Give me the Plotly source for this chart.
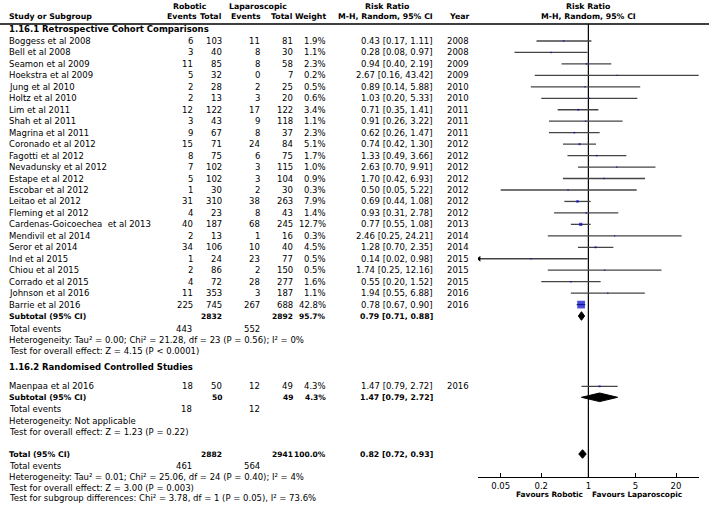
import plotly.graph_objects as go

# ---------------- data ----------------
studies = ["Boggess et al 2008", "Bell et al 2008", "Seamon et al 2009", "Hoekstra et al 2009",
           "Jung et al 2010", "Holtz et al 2010", "Lim et al 2011", "Shah et al 2011",
           "Magrina et al 2011", "Coronado et al 2012", "Fagotti et al 2012", "Nevadunsky et al 2012",
           "Estape et al 2012", "Escobar et al 2012", "Leitao et al 2012", "Fleming et al 2012",
           "Cardenas-Goicoechea \u00a0et al 2013", "Mendivil et al 2014", "Seror et al 2014",
           "Ind et al 2015", "Chiou et al 2015", "Corrado et al 2015", "Johnson et al 2016",
           "Barrie et al 2016"]
rob_events = [6, 3, 11, 5, 2, 2, 12, 3, 9, 15, 8, 7, 5, 1, 31, 4, 40, 2, 34, 1, 2, 4, 11, 225]
rob_total = [103, 40, 85, 32, 28, 13, 122, 43, 67, 71, 75, 102, 102, 30, 310, 23, 187, 13, 106, 24, 86, 72, 353, 745]
lap_events = [11, 8, 8, 0, 2, 3, 17, 9, 8, 24, 6, 3, 3, 2, 38, 8, 68, 1, 10, 23, 2, 28, 3, 267]
lap_total = [81, 30, 58, 7, 25, 20, 122, 118, 37, 84, 75, 115, 104, 30, 263, 43, 245, 16, 40, 77, 150, 277, 187, 688]
weights = [1.9, 1.1, 2.3, 0.2, 0.5, 0.6, 3.4, 1.1, 2.3, 5.1, 1.7, 1.0, 0.9, 0.3, 7.9, 1.4, 12.7, 0.3, 4.5, 0.5, 0.5, 1.6, 1.1, 42.8]
rr = [0.43, 0.28, 0.94, 2.67, 0.89, 1.03, 0.71, 0.91, 0.62, 0.74, 1.33, 2.63, 1.70, 0.50, 0.69, 0.93, 0.77, 2.46, 1.28, 0.14, 1.74, 0.55, 1.94, 0.78]
ci_lo = [0.17, 0.08, 0.40, 0.16, 0.14, 0.20, 0.35, 0.26, 0.26, 0.42, 0.49, 0.70, 0.42, 0.05, 0.44, 0.31, 0.55, 0.25, 0.70, 0.02, 0.25, 0.20, 0.55, 0.67]
ci_hi = [1.11, 0.97, 2.19, 43.42, 5.88, 5.33, 1.41, 3.22, 1.47, 1.30, 3.66, 9.91, 6.93, 5.22, 1.08, 2.78, 1.08, 24.21, 2.35, 0.98, 12.16, 1.52, 6.88, 0.90]
years = [2008, 2008, 2009, 2009, 2010, 2010, 2011, 2011, 2011, 2012, 2012, 2012, 2012, 2012, 2012, 2012, 2013, 2014, 2014, 2015, 2015, 2015, 2016, 2016]

rct_study = ["Maenpaa et al 2016"]
rct_rob_events = [18]
rct_rob_total = [50]
rct_lap_events = [12]
rct_lap_total = [49]
rct_weights = [4.3]
rct_rr = [1.47]
rct_lo = [0.79]
rct_hi = [2.72]
rct_years = [2016]

# subtotals / totals: [rob_total, lap_total, weight, rr, lo, hi, rob_events, lap_events]
sub1 = [2832, 2892, 95.7, 0.79, 0.71, 0.88, 443, 552]
sub2 = [50, 49, 4.3, 1.47, 0.79, 2.72, 18, 12]
overall = [2882, 2941, 100.0, 0.82, 0.72, 0.93, 461, 564]

het1 = "Heterogeneity: Tau² = 0.00; Chi² = 21.28, df = 23 (P = 0.56); I² = 0%"
test1 = "Test for overall effect: Z = 4.15 (P < 0.0001)"
het2 = "Heterogeneity: Not applicable"
test2 = "Test for overall effect: Z = 1.23 (P = 0.22)"
het_all = "Heterogeneity: Tau² = 0.01; Chi² = 25.06, df = 24 (P = 0.40); I² = 4%"
test_all = "Test for overall effect: Z = 3.00 (P = 0.003)"
test_sub = "Test for subgroup differences: Chi² = 3.78, df = 1 (P = 0.05), I² = 73.6%"

tick_vals = [0.05, 0.2, 1, 5, 20]
tick_text = ["0.05", "0.2", "1", "5", "20"]

# ---------------- layout constants ----------------
W, H = 709, 508
FONT = "DejaVu Sans"
FS = 8.5      # regular text
FSB = 7.8     # bold column / subtotal text
FSN = 7.5     # bold subtotal numbers
FSG = 8.5     # group headings
X_STUDY = 8
X_REV, X_RTOT, X_LEV, X_LTOT, X_WT, X_CI, X_YEAR = 194, 223, 261, 293.5, 327, 434, 470
XMIN, XMAX = -1.638, 1.642
AX_L, AX_R = 478, 699
AX_Y = 477.3

ann = []


def txt(x, y, s, anchor="left", bold=False, size=FS):
    ann.append(dict(x=x / W, y=y, xref="paper", yref="y", text=("<b>%s</b>" % s) if bold else s,
                    showarrow=False, xanchor=anchor, yanchor="middle", borderpad=0,
                    font=dict(family=FONT, size=size, color="black")))


def ci_str(r, l, h):
    return "%.2f [%.2f, %.2f]" % (r, l, h)


fig = go.Figure()

# headers
txt(190, 6, "Robotic", "center", True, FSB)
txt(258, 6, "Laparoscopic", "center", True, FSB)
txt(387, 6, "Risk Ratio", "center", True, FSB)
txt(588.4, 6, "Risk Ratio", "center", True, FSB)
txt(X_STUDY, 16.5, "Study or Subgroup", "left", True, FSB)
txt(198, 16.5, "Events", "right", True, FSB)
txt(X_RTOT, 16.5, "Total", "right", True, FSB)
txt(X_LEV + 1, 16.5, "Events", "right", True, FSB)
txt(X_LTOT, 16.5, "Total", "right", True, FSB)
txt(X_WT, 16.5, "Weight", "right", True, FSB)
txt(X_CI, 16.5, "M-H, Random, 95% CI", "right", True, FSB)
txt(X_YEAR, 16.5, "Year", "right", True, FSB)
txt(588.4, 16.5, "M-H, Random, 95% CI", "center", True, FSB)

txt(X_STUDY, 28.5, "1.16.1 Retrospective Cohort Comparisons", "left", True, FSG)

Y0, DY = 41, 11.46
ys1 = [Y0 + DY * k for k in range(len(studies))]


def study_rows(names, re, rt, le, lt, w, r, l, h, yr, ys):
    for i in range(len(names)):
        y = ys[i]
        txt(X_STUDY, y, names[i])
        txt(X_REV, y, str(re[i]), "right")
        txt(X_RTOT, y, str(rt[i]), "right")
        txt(X_LEV, y, str(le[i]), "right")
        txt(X_LTOT, y, str(lt[i]), "right")
        txt(X_WT, y, "%.1f%%" % w[i], "right")
        txt(X_CI, y, ci_str(r[i], l[i], h[i]), "right")
        txt(X_YEAR, y, str(yr[i]), "right")


study_rows(studies, rob_events, rob_total, lap_events, lap_total, weights, rr, ci_lo, ci_hi, years, ys1)


def subtotal_rows(label, s, y_sub, y_ev, lines):
    txt(X_STUDY, y_sub, label, "left", True, FSB)
    txt(X_RTOT, y_sub, str(s[0]), "right", True, FSN)
    txt(X_LTOT, y_sub, str(s[1]), "right", True, FSN)
    txt(X_WT, y_sub, "%.1f%%" % s[2], "right", True, FSN)
    txt(X_CI, y_sub, ci_str(s[3], s[4], s[5]), "right", True, FSB)
    txt(X_STUDY, y_ev, "Total events")
    txt(X_REV - 1, y_ev, str(s[6]), "right")
    txt(X_LEV, y_ev, str(s[7]), "right")
    for yy, t in lines:
        txt(X_STUDY, yy, t)


subtotal_rows("Subtotal (95% CI)", sub1, 316, 328.8, [(340, het1), (350.5, test1)])

txt(X_STUDY, 367.3, "1.16.2 Randomised Controlled Studies", "left", True, FSG)
ys2 = [386.3]
study_rows(rct_study, rct_rob_events, rct_rob_total, rct_lap_events, rct_lap_total, rct_weights,
           rct_rr, rct_lo, rct_hi, rct_years, ys2)
subtotal_rows("Subtotal (95% CI)", sub2, 397.3, 409.3, [(420.7, het2), (431.7, test2)])
subtotal_rows("Total (95% CI)", overall, 454, 466, [(476.7, het_all), (487.7, test_all), (498.3, test_sub)])

txt(584, 494, "Favours Robotic", "right", True, 7.4)
txt(591, 494, "Favours Laparoscopic", "left", True, 7.4)

# ---------------- forest graphics ----------------
xmin_val = 10 ** XMIN
xmax_val = 10 ** XMAX

# vertical null line
fig.add_trace(go.Scatter(x=[1, 1], y=[24, AX_Y], mode="lines", line=dict(color="black", width=1.2),
                         hoverinfo="skip", showlegend=False))

all_r = rr + rct_rr
all_l = ci_lo + rct_lo
all_h = ci_hi + rct_hi
all_w = weights + rct_weights
all_y = ys1 + ys2

lx, ly = [], []
for r, l, h, y in zip(all_r, all_l, all_h, all_y):
    lx += [max(l, xmin_val), min(h, xmax_val), None]
    ly += [y, y, None]
fig.add_trace(go.Scatter(x=lx, y=ly, mode="lines", line=dict(color="#444444", width=1.3),
                         hoverinfo="skip", showlegend=False))

# arrows for clipped CIs
arr_x = [xmin_val * 1.04 for l in all_l if l < xmin_val]
arr_y = [y for l, y in zip(all_l, all_y) if l < xmin_val]
fig.add_trace(go.Scatter(x=arr_x, y=arr_y, mode="markers",
                         marker=dict(symbol="triangle-left", size=5, color="black"),
                         hoverinfo="skip", showlegend=False))

# weighted squares
fig.add_trace(go.Scatter(x=all_r, y=all_y, mode="markers",
                         marker=dict(symbol="square", size=[1.3 + 0.15 * w for w in all_w],
                                     color="#0000cc", line=dict(width=0)),
                         hoverinfo="skip", showlegend=False))

# diamonds
for s, yc in [(sub1, 316), (sub2, 397.3), (overall, 454)]:
    hh = 4.3
    fig.add_trace(go.Scatter(x=[s[4], s[3], s[5], s[3], s[4]], y=[yc, yc - hh, yc, yc + hh, yc],
                             mode="lines", fill="toself", fillcolor="black",
                             line=dict(color="black", width=1), hoverinfo="skip", showlegend=False))

# header rule
fig.add_shape(type="line", xref="paper", yref="y", x0=0, x1=1, y0=24, y1=24,
              line=dict(color="black", width=1.5))

fig.update_layout(
    width=W, height=H, margin=dict(l=0, r=0, t=0, b=0),
    paper_bgcolor="white", plot_bgcolor="rgba(0,0,0,0)",
    annotations=ann, showlegend=False,
    xaxis=dict(type="log", range=[XMIN, XMAX], domain=[AX_L / W, AX_R / W],
               anchor="free", position=1 - AX_Y / H,
               showline=True, linecolor="black", linewidth=1,
               ticks="inside", ticklen=4, tickcolor="black", tickwidth=1,
               tickvals=tick_vals, ticktext=tick_text,
               tickfont=dict(family=FONT, size=8.5, color="black"),
               showgrid=False, zeroline=False, fixedrange=True),
    yaxis=dict(range=[H, 0], domain=[0, 1], visible=False, fixedrange=True),
)

fig.write_html("out.html", config={"displayModeBar": False},
               post_script="document.body.style.margin='0';")
